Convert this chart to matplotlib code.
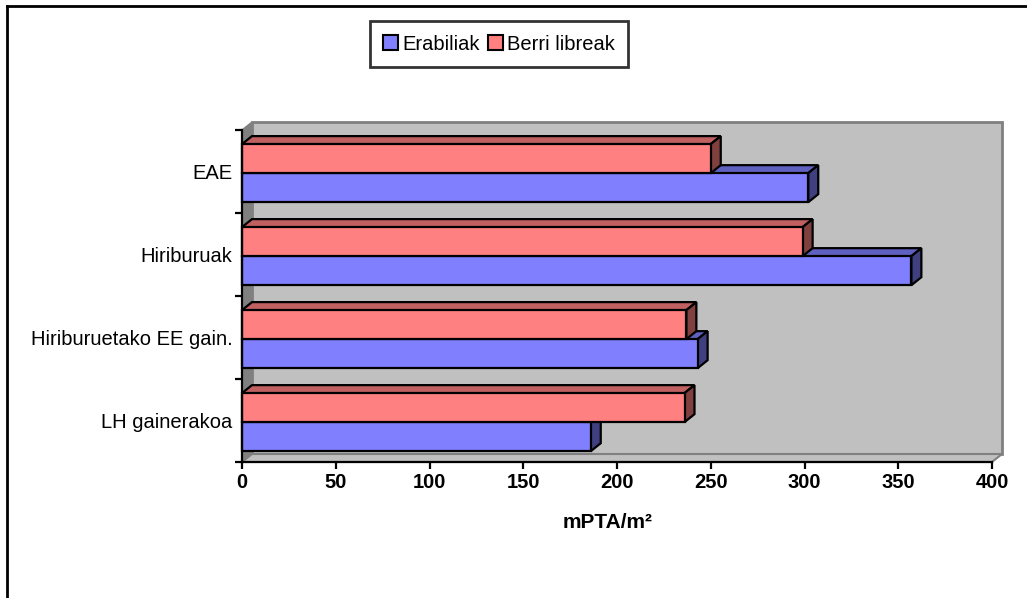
import matplotlib.pyplot as plt
from matplotlib.patches import Polygon, Rectangle
from matplotlib.lines import Line2D

plt.rcParams['font.family'] = ['Liberation Sans', 'DejaVu Sans']

# eskualdeak (behetik gora) eta prezioak
categories = ['LH gainerakoa', 'Hiriburuetako EE gain.', 'Hiriburuak', 'EAE']
erabiliak = [186, 243, 357, 302]
berri_libreak = [236, 237, 299, 250]
series_names = ['Erabiliak', 'Berri libreak']
xticks = [0, 50, 100, 150, 200, 250, 300, 350, 400]

blue = ('#8080FF', '#6060C0', '#404080')   # aurrea, goia, alboa
red = ('#FF8080', '#C06060', '#804040')

W, H = 1027, 598
fig = plt.figure(figsize=(W / 100, H / 100), dpi=100)
# ardatza: 0 -> x=242px, 400 -> x=992px ; y: 462px .. 130px
ax = fig.add_axes([242 / W, 1 - 462 / H, 750 / W, 332 / H])
ax.set_xlim(0, 400)
ax.set_ylim(0, 4)

# sakonera efektua datu-unitateetan
px_x = 400 / 750
px_y = 4 / 332
dx = 10 * px_x
dy = 8 * px_y

# atzeko horma, ezkerreko horma eta zorua
ax.add_patch(Polygon([(dx, dy), (400 + dx, dy), (400 + dx, 4 + dy), (dx, 4 + dy)],
                     closed=True, facecolor='#C0C0C0', edgecolor='#808080',
                     lw=2, clip_on=False, zorder=1))
ax.add_patch(Polygon([(0, 0), (dx, dy), (dx, 4 + dy), (0, 4)],
                     closed=True, facecolor='#808080', edgecolor='#808080',
                     lw=1, clip_on=False, zorder=1))
ax.add_patch(Polygon([(0, 0), (400, 0), (400 + dx, dy), (dx, dy)],
                     closed=True, facecolor='#C0C0C0', edgecolor='#808080',
                     lw=1.5, clip_on=False, zorder=1))


def bar3d(y0, h, v, cols, z):
    front, top, side = cols
    kw = dict(edgecolor='black', lw=1.6, clip_on=False, zorder=z,
              joinstyle='miter')
    ax.add_patch(Polygon([(0, y0 + h), (v, y0 + h), (v + dx, y0 + h + dy),
                          (dx, y0 + h + dy)], closed=True, facecolor=top, **kw))
    ax.add_patch(Polygon([(v, y0), (v + dx, y0 + dy), (v + dx, y0 + h + dy),
                          (v, y0 + h)], closed=True, facecolor=side, **kw))
    ax.add_patch(Rectangle((0, y0), v, h, facecolor=front, **kw))


bh = 0.35
shift = -0.02
for i in range(len(categories)):
    c = i + 0.5 + shift
    bar3d(c - bh, bh, erabiliak[i], blue, 2 + i * 2)
    bar3d(c, bh, berri_libreak[i], red, 3 + i * 2)

for s in ['top', 'right']:
    ax.spines[s].set_visible(False)
ax.spines['left'].set_linewidth(1.6)
ax.spines['bottom'].set_linewidth(1.6)
ax.spines['left'].set_zorder(20)
ax.spines['bottom'].set_zorder(20)

ax.set_xticks(xticks)
ax.set_xticklabels([str(t) for t in xticks], fontsize=14.5, fontweight='bold')
ax.set_yticks([0, 1, 2, 3, 4])
ax.set_yticklabels([])
ax.set_yticks([0.5, 1.5, 2.5, 3.5], minor=True)
ax.set_yticklabels(categories, minor=True, fontsize=14.5)
ax.tick_params(axis='y', which='minor', length=0, pad=7)
ax.tick_params(axis='y', which='major', length=5, width=1.6)
ax.tick_params(axis='x', length=5, width=1.6, pad=3)
ax.set_xlabel('mPTA/m²', fontsize=15, fontweight='bold')
ax.xaxis.set_label_coords(0.488, -0.155)

# kanpoko markoa
fig.add_artist(Line2D([7 / W, 7 / W], [0, 1 - 6 / H], color='black', lw=2,
                      transform=fig.transFigure))
fig.add_artist(Line2D([7 / W, 1], [1 - 6 / H, 1 - 6 / H], color='black', lw=2,
                      transform=fig.transFigure))

handles = [Rectangle((0, 0), 1, 1, facecolor=blue[0], edgecolor='black', lw=1.5),
           Rectangle((0, 0), 1, 1, facecolor=red[0], edgecolor='black', lw=1.5)]
leg = fig.legend(handles, series_names, loc='center', bbox_to_anchor=(499 / W, 1 - 44 / H),
                 ncol=2, fontsize=14.5, frameon=True, fancybox=False,
                 handlelength=0.75, handleheight=0.75, handletextpad=0.2,
                 columnspacing=0.4, borderpad=0.65, borderaxespad=0)
leg.get_frame().set_edgecolor('black')
leg.get_frame().set_linewidth(2)

fig.savefig('out.png', dpi=100)
